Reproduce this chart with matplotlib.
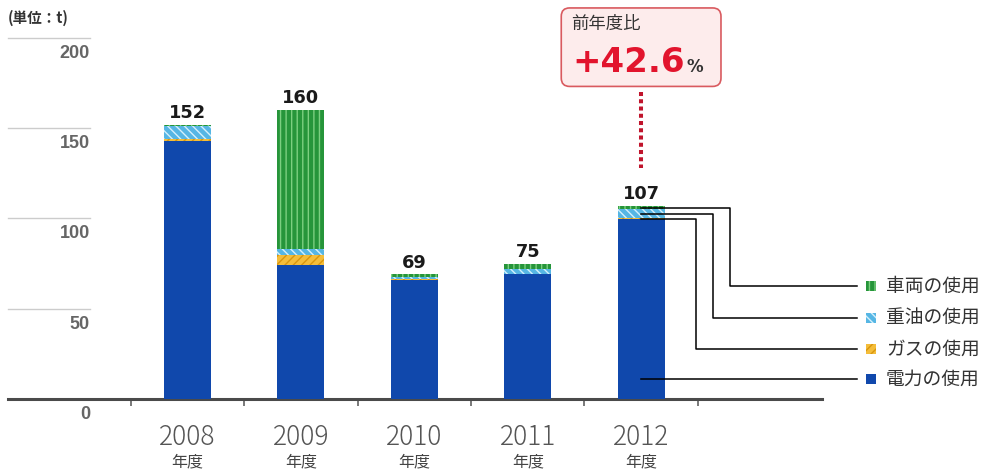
import matplotlib
matplotlib.use('Agg')
import matplotlib.pyplot as plt
from matplotlib.patches import Rectangle, FancyBboxPatch
from matplotlib.lines import Line2D
from matplotlib.transforms import Affine2D, ScaledTranslation, blended_transform_factory

plt.rcParams['font.family'] = ['Noto Sans CJK JP', 'DejaVu Sans']
plt.rcParams['hatch.linewidth'] = 1.0

# CO2排出量 (単位: t)
years = ['2008', '2009', '2010', '2011', '2012']
electricity = [143, 74, 66, 69, 99.5]
gas = [1, 6, 0.5, 0.5, 0.5]
heavy_oil = [7, 3, 1, 2.5, 5]
vehicles = [1, 77, 1.5, 3, 2]
totals = [152, 160, 69, 75, 107]
yoy_change = '+42.6'
y_ticks = [0, 50, 100, 150, 200]

# 積み上げ順: 下から電力, ガス, 重油, 車両
series = [
    ('電力の使用', electricity, '#1048ac', None, '#1048ac'),
    ('ガスの使用', gas, '#f4bd3a', '////', '#d9960e'),
    ('重油の使用', heavy_oil, '#56b6e4', '\\\\\\\\', '#d4f0fc'),
    ('車両の使用', vehicles, '#26953a', '|||', '#7ccf80'),
]

fig = plt.figure(figsize=(9.87, 4.74), dpi=100)
ax = fig.add_axes([8 / 987, 75 / 474, 814 / 987, 361 / 474])

x = list(range(len(years)))
bar_w = 0.415
bottoms = [0.0] * len(years)
segments = {}
for name, vals, face, hatch, hc in series:
    ax.bar(x, vals, bottom=bottoms, width=bar_w, color=face,
           edgecolor=hc, linewidth=0, hatch=hatch, zorder=3)
    segments[name] = [(b, b + v) for b, v in zip(bottoms, vals)]
    bottoms = [b + v for b, v in zip(bottoms, vals)]

ax.set_xlim(-1.583, 5.595)
ax.set_ylim(0, 200)

for s in ['top', 'right', 'left']:
    ax.spines[s].set_visible(False)
ax.spines['bottom'].set_color('#4a4a4a')
ax.spines['bottom'].set_linewidth(2.2)
ax.set_yticks([])
ax.set_xticks([i - 0.5 for i in range(len(years) + 1)])
ax.set_xticklabels([])
ax.tick_params(axis='x', length=5, width=1.1, color='#555555', direction='out')

# 左側の短い目盛線と数値
trans = blended_transform_factory(ax.transAxes, ax.transData)
grid_end = 82 / 814
for v in y_ticks:
    if v > 0:
        ax.plot([0, grid_end], [v, v], transform=trans, color='#cccccc',
                lw=1, clip_on=False)
    ax.annotate(str(v), xy=(grid_end, v), xycoords=trans, xytext=(0, -5),
                textcoords='offset points', ha='right', va='top',
                fontsize=13, fontweight='bold', family='Liberation Sans',
                color='#666666')

fig.text(8 / 987, 1 - 17.5 / 474, '(単位：t)', ha='left', va='center',
         fontsize=10.5, fontweight='bold', color='#333333')

# 年度ラベル
for i, yr in enumerate(years):
    ax.annotate(yr, xy=(i, 0), xytext=(0, -27.7), textcoords='offset points',
                ha='center', va='center', fontsize=19, fontweight='light',
                color='#555555')
    ax.annotate('年度', xy=(i, 0), xytext=(0, -45), textcoords='offset points',
                ha='center', va='center', fontsize=11.5, color='#444444')

# 合計値
for i, t in enumerate(totals):
    ax.annotate(str(t), xy=(i, t), xytext=(0, 5), textcoords='offset points',
                ha='center', va='baseline', fontsize=12.8, fontweight='bold',
                family='DejaVu Sans', color='#1a1a1a')

# 前年度比の吹き出し (2012年度の棒の上)
last = len(years) - 1
pt = Affine2D().scale(fig.dpi / 72) + ScaledTranslation(last, totals[last], ax.transData)
box = FancyBboxPatch((-57.5, 86), 115, 56.5,
                     boxstyle='round,pad=0,rounding_size=6',
                     facecolor='#fdecec', edgecolor='#d95a5f', linewidth=1.2,
                     transform=pt, clip_on=False, zorder=5)
ax.add_patch(box)
ax.text(-50.4, 130.7, '前年度比', transform=pt, ha='left', va='center',
        fontsize=12.5, color='#333333', zorder=6)
ax.text(-49.7, 96.5, yoy_change, transform=pt, ha='left', va='baseline',
        fontsize=24.5, fontweight='bold', family='DejaVu Sans',
        color='#e2142d', zorder=6)
ax.text(32.4, 96.5, '%', transform=pt, ha='left', va='baseline',
        fontsize=12, fontweight='bold', family='DejaVu Sans',
        color='#333333', zorder=6)
ax.add_line(Line2D([0, 0], [82, 27.4], transform=pt, color='#c0142c',
                   linewidth=2.9, linestyle=(0, (1, 0.8)),
                   solid_capstyle='butt', dash_capstyle='butt', clip_on=False))

# 凡例と引出線
legend_rows = [62.6, 44.9, 27.7, 11.1]
legend_order = ['車両の使用', '重油の使用', 'ガスの使用', '電力の使用']
styles = {name: (face, hatch, hc) for name, _, face, hatch, hc in series}
line_end = 5.904
sq_x, sq_w, sq_h = 5.984, 0.088, 5.5
for k, (name, row_y) in enumerate(zip(legend_order, legend_rows)):
    lo, hi = segments[name][last]
    if name == '電力の使用':
        ax.plot([last, line_end], [row_y, row_y], color='black', lw=1.1,
                clip_on=False, zorder=4)
    else:
        anchor = (lo + hi) / 2
        elbow = last + 0.784 - 0.15 * k
        ax.plot([last, elbow, elbow, line_end],
                [anchor, anchor, row_y, row_y], color='black', lw=1.1,
                clip_on=False, zorder=4)
    face, hatch, hc = styles[name]
    ax.add_patch(Rectangle((sq_x, row_y - sq_h / 2), sq_w, sq_h,
                           facecolor=face, edgecolor=hc, linewidth=0,
                           hatch=hatch, clip_on=False))
    ax.text(6.16, row_y, name, ha='left', va='center', fontsize=13.5,
            color='#333333', clip_on=False)

fig.savefig('out.png', dpi=100)
